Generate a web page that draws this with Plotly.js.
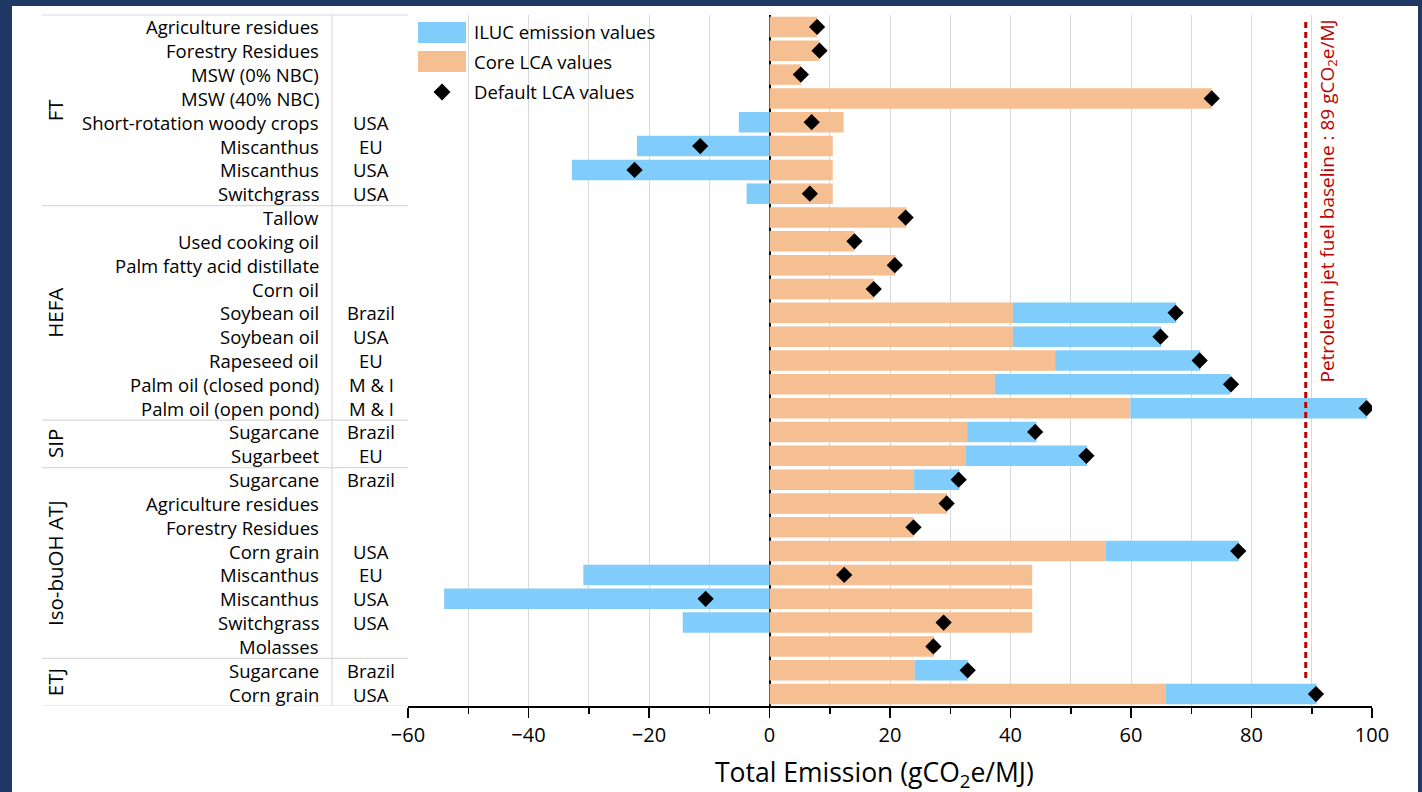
<!DOCTYPE html>
<html>
<head>
<meta charset="utf-8">
<script src="https://cdn.plot.ly/plotly-3.0.1.min.js"></script>
<style>
  html, body { margin: 0; padding: 0; background: #1f3864; width: 1422px; height: 792px; overflow: hidden; }
  #chart { position: absolute; left: 12px; top: 6px; width: 1406px; height: 786px; background: #ffffff; }
</style>
</head>
<body>
<div id="chart"></div>
<script>
// ---- Data ----
const groupNames  = ["FT", "HEFA", "SIP", "Iso-buOH ATJ", "ETJ"];
const groupCounts = [8, 9, 2, 8, 2];

const items = [
  "Agriculture residues", "Forestry Residues", "MSW (0% NBC)", "MSW (40% NBC)",
  "Short-rotation woody crops", "Miscanthus", "Miscanthus", "Switchgrass",
  "Tallow", "Used cooking oil", "Palm fatty acid distillate", "Corn oil",
  "Soybean oil", "Soybean oil", "Rapeseed oil", "Palm oil (closed pond)", "Palm oil (open pond)",
  "Sugarcane", "Sugarbeet",
  "Sugarcane", "Agriculture residues", "Forestry Residues", "Corn grain",
  "Miscanthus", "Miscanthus", "Switchgrass", "Molasses",
  "Sugarcane", "Corn grain"
];
const regions = [
  "", "", "", "", "USA", "EU", "USA", "USA",
  "", "", "", "", "Brazil", "USA", "EU", "M & I", "M & I",
  "Brazil", "EU",
  "Brazil", "", "", "USA", "EU", "USA", "USA", "",
  "Brazil", "USA"
];
const coreLCA = [
  7.9, 8.3, 5.2, 73.4, 12.3, 10.5, 10.5, 10.5,
  22.7, 14.1, 20.9, 17.3, 40.4, 40.4, 47.4, 37.4, 59.9,
  32.8, 32.5,
  24.0, 29.5, 23.9, 55.8, 43.6, 43.6, 43.6, 27.3,
  24.1, 65.7
];
const ilucValues = [
  0, 0, 0, 0, -5.1, -22.0, -32.8, -3.8,
  0, 0, 0, 0, 27.1, 24.6, 24.1, 39.1, 39.3,
  11.5, 20.2,
  7.5, 0, 0, 22.1, -30.9, -54.0, -14.4, 0,
  8.8, 25.1
];
const defaultLCA = [
  7.9, 8.3, 5.2, 73.4, 7.0, -11.5, -22.4, 6.7,
  22.6, 14.1, 20.8, 17.3, 67.4, 64.9, 71.4, 76.6, 99.1,
  44.1, 52.6,
  31.4, 29.4, 23.9, 77.8, 12.4, -10.6, 28.9, 27.2,
  32.9, 90.7
];
const baselineValue = 89;
const xTickVals = [-60, -40, -20, 0, 20, 40, 60, 80, 100];
const xTickText = ["\u221260", "\u221240", "\u221220", "0", "20", "40", "60", "80", "100"];
const xTitle = "Total Emission (gCO<sub>2</sub>e/MJ)";

// ---- Build ----
const rowGroup = [];
groupNames.forEach((g, gi) => { for (let k = 0; k < groupCounts[gi]; k++) rowGroup.push(g); });
const ids = items.map((it, i) => rowGroup[i] + ": " + it + " " + regions[i]);

const FONT = "'Open Sans', Lato, sans-serif";
const px2xp = px => (px - 408) / 964;   // page px -> paper x
const py2yp = py => (706 - py) / 691;   // page px -> paper y
const GRID = "#d9d9d9";
const LABEL_SIZE = 18.5;

const traces = [
  { type: "bar", orientation: "h", name: "Core LCA values", y: ids, x: coreLCA,
    marker: { color: "#f5bf92" }, hoverinfo: "x+name" },
  { type: "bar", orientation: "h", name: "ILUC emission values", y: ids, x: ilucValues,
    marker: { color: "#80ccfa" }, hoverinfo: "x+name" },
  { type: "scatter", mode: "markers", name: "Default LCA values", y: ids, x: defaultLCA,
    marker: { symbol: "diamond", size: 12.5, color: "#000000" }, hoverinfo: "x+name" }
];

const annotations = [];
const shapes = [];

// item / region labels
ids.forEach((id, i) => {
  annotations.push({ xref: "paper", yref: "y", x: px2xp(321), y: id, xanchor: "right", yanchor: "middle",
    text: items[i], showarrow: false, font: { family: FONT, size: LABEL_SIZE, color: "#000" } });
  if (regions[i]) annotations.push({ xref: "paper", yref: "y", x: px2xp(371), y: id, xanchor: "center", yanchor: "middle",
    text: regions[i], showarrow: false, font: { family: FONT, size: LABEL_SIZE, color: "#000" } });
});

// group labels + separators
let start = 0;
shapes.push({ type: "line", xref: "paper", yref: "paper", x0: px2xp(42), x1: 0, y0: 1, y1: 1, line: { color: GRID, width: 1.2 } });
groupNames.forEach((g, gi) => {
  const n = groupCounts[gi];
  annotations.push({ xref: "paper", yref: "y", x: px2xp(55), y: start + (n - 1) / 2, xanchor: "center", yanchor: "middle",
    text: g, textangle: -90, showarrow: false, font: { family: FONT, size: 20.5, color: "#000" } });
  start += n;
  shapes.push({ type: "line", xref: "paper", yref: "y", x0: px2xp(42), x1: 0, y0: start - 0.5, y1: start - 0.5,
    line: { color: GRID, width: 1.2 } });
});
shapes.push({ type: "line", xref: "paper", yref: "paper", x0: px2xp(332), x1: px2xp(332), y0: 0, y1: 1, line: { color: GRID, width: 1.2 } });

// baseline
shapes.push({ type: "line", xref: "x", yref: "paper", x0: baselineValue, x1: baselineValue, y0: py2yp(678), y1: py2yp(21),
  line: { color: "#c00000", width: 3, dash: "6px,4px" } });
annotations.push({ xref: "paper", yref: "paper", x: px2xp(1327), y: py2yp(201.5), xanchor: "center", yanchor: "middle",
  textangle: -90, showarrow: false, text: "Petroleum jet fuel baseline : " + baselineValue + " gCO<sub>2</sub>e/MJ",
  font: { family: FONT, size: 19, color: "#c00000" } });

// x-axis title (placed like the reference, slightly left of centre)
annotations.push({ xref: "paper", yref: "paper", x: px2xp(874), y: py2yp(773), xanchor: "center", yanchor: "middle",
  text: xTitle, showarrow: false, font: { family: FONT, size: 26.5, color: "#000" } });

// custom legend
shapes.push({ type: "rect", xref: "paper", yref: "paper", x0: px2xp(418), x1: px2xp(466), y0: py2yp(43), y1: py2yp(22),
  fillcolor: "#80ccfa", line: { width: 0 } });
shapes.push({ type: "rect", xref: "paper", yref: "paper", x0: px2xp(418), x1: px2xp(466), y0: py2yp(72), y1: py2yp(51),
  fillcolor: "#f5bf92", line: { width: 0 } });
const dcx = px2xp(442), dcy = py2yp(92), dw = 8.5 / 964, dh = 8.5 / 691;
shapes.push({ type: "path", xref: "paper", yref: "paper",
  path: `M ${dcx - dw} ${dcy} L ${dcx} ${dcy + dh} L ${dcx + dw} ${dcy} L ${dcx} ${dcy - dh} Z`,
  fillcolor: "#000", line: { width: 0 } });
[["ILUC emission values", 32], ["Core LCA values", 62], ["Default LCA values", 92]].forEach(([t, yy]) => {
  annotations.push({ xref: "paper", yref: "paper", x: px2xp(472), y: py2yp(yy), xanchor: "left", yanchor: "middle",
    text: t, showarrow: false, font: { family: FONT, size: 18.5, color: "#000" } });
});

const layout = {
  width: 1406, height: 786,
  margin: { l: 396, r: 46, t: 9, b: 86, pad: 0 },
  paper_bgcolor: "#ffffff", plot_bgcolor: "#ffffff",
  barmode: "relative", bargap: 0.14,
  showlegend: false,
  font: { family: FONT, color: "#000" },
  xaxis: {
    range: [-60, 100], tickvals: xTickVals, ticktext: xTickText,
    showgrid: true, gridcolor: GRID, gridwidth: 1,
    zeroline: true, zerolinecolor: "#000", zerolinewidth: 2,
    showline: true, linecolor: "#000", linewidth: 1.5,
    ticks: "outside", ticklen: 10, tickwidth: 1.5, tickcolor: "#000",
    minor: { dtick: 10, tick0: 0, showgrid: true, gridcolor: GRID, gridwidth: 1, ticks: "outside", ticklen: 6, tickwidth: 1.5, tickcolor: "#000" },
    tickfont: { family: FONT, size: 20, color: "#000" },
    fixedrange: true
  },
  yaxis: {
    type: "category", categoryorder: "array", categoryarray: ids,
    range: [ids.length - 0.5, -0.5],
    showticklabels: false, showgrid: false, zeroline: false, showline: false, ticks: "",
    fixedrange: true
  },
  shapes: shapes,
  annotations: annotations
};

Plotly.newPlot("chart", traces, layout, { displayModeBar: false, staticPlot: true });
</script>
</body>
</html>
